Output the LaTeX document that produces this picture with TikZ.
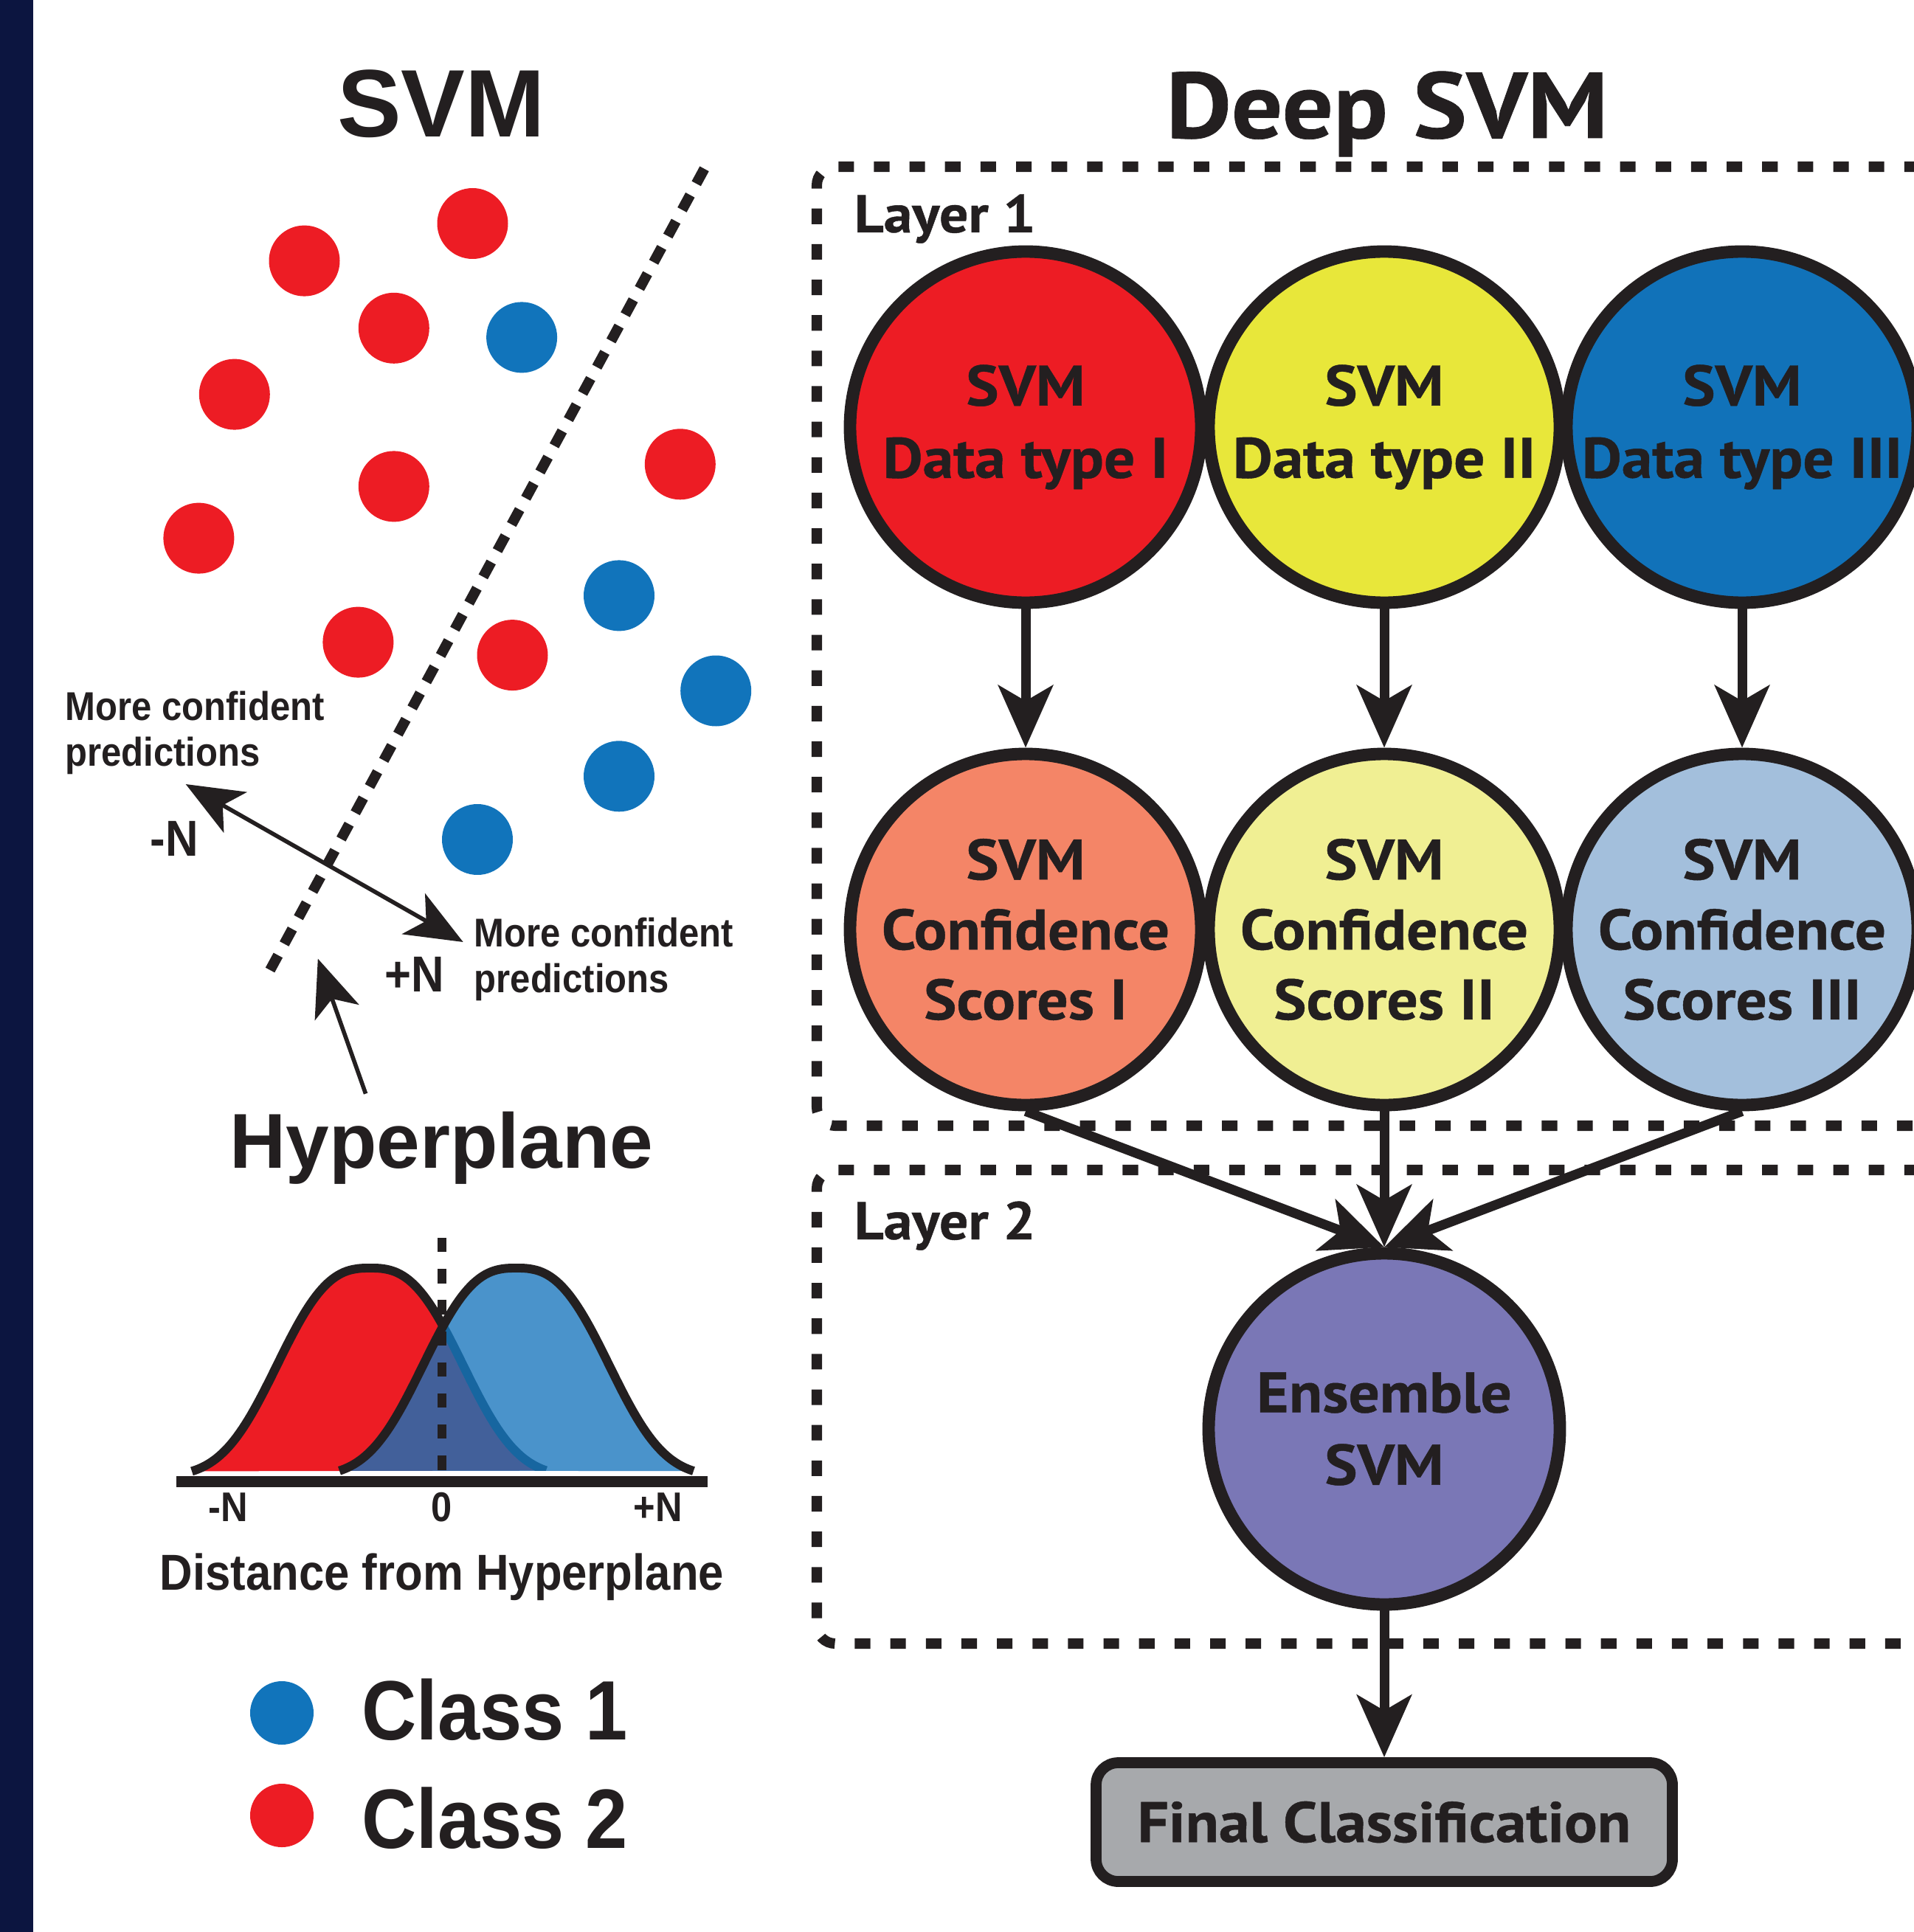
\documentclass[tikz,border=0pt]{standalone}
\usepackage{fontspec}
\setmainfont{Liberation Sans}
\newfontfamily\narrowfont[FakeStretch=0.9]{Liberation Sans}
\newfontfamily\deepfont[FakeStretch=1.08,BoldFeatures={FakeBold=0.6}]{PT Sans}
\usetikzlibrary{arrows.meta,positioning}

\definecolor{inkblack}{HTML}{231F20}
\definecolor{barnavy}{HTML}{0C1540}
\definecolor{svmred}{HTML}{ED1C24}
\definecolor{svmyellow}{HTML}{E8E73A}
\definecolor{svmblue}{HTML}{1172B9}
\definecolor{confsalmon}{HTML}{F48567}
\definecolor{confyellow}{HTML}{F0EF93}
\definecolor{confblue}{HTML}{A3BFDC}
\definecolor{enspurple}{HTML}{7A77B6}
\definecolor{finalgrey}{HTML}{A7A9AC}
\definecolor{dotblue}{HTML}{1174BB}
\definecolor{curveblue}{HTML}{4A93CB}
\definecolor{overlapblue}{HTML}{42609A}
\definecolor{flankblue}{HTML}{1766A0}

\begin{document}
\begin{tikzpicture}[text=inkblack,
  svm node/.style={circle,draw=inkblack,line width=4.8pt,minimum size=4.76cm,
    inner sep=0pt,align=center,font=\deepfont\bfseries\fontsize{22}{27.9}\selectfont},
  score node/.style={svm node,font=\deepfont\bfseries\fontsize{22}{27}\selectfont},
  red dot/.style={circle,fill=svmred,minimum size=0.96cm,inner sep=0pt},
  blue dot/.style={circle,fill=dotblue,minimum size=0.96cm,inner sep=0pt},
  layer box/.style={draw=inkblack,line width=4pt,dash pattern=on 6pt off 7.7pt,rounded corners=0.25cm},
  layer label/.style={anchor=base west,inner sep=0pt,font=\deepfont\bfseries\fontsize{20.5}{24}\selectfont},
  thick arrow/.style={->,>={Stealth[length=24pt,width=21pt,inset=6pt]},line width=3.7pt,inkblack},
  thin arrow/.style={>={Stealth[length=22pt,width=18pt,inset=5.6pt]},line width=1.6pt,draw=inkblack},
  curve line/.style={draw=inkblack,line width=3.4pt,line join=round},
  note/.style={align=left,anchor=north west,inner sep=0pt,font=\narrowfont\bfseries\fontsize{15.5}{17.6}\selectfont},
  declare function={redbell(\x)=-20.02+2.83*exp(-1*pow(abs(\x-5.015)/1.5,2.7));
                    bluebell(\x)=-20.02+2.83*exp(-1*pow(abs(\x-6.995)/1.5,2.7));}]

  \useasboundingbox (0,0) rectangle (25.93,-26.19);
  \fill[barnavy] (0,0) rectangle (0.45,-26.19);

  %% left half: plain SVM
  \node[anchor=base,font=\bfseries\fontsize{37}{40}\selectfont] (SvmTitle) at (5.98,-1.86) {SVM};

  \node[red dot] (R1) at (6.405,-3.03) {};
  \node[red dot] (R2) at (4.125,-3.536) {};
  \node[red dot] (R3) at (5.338,-4.448) {};
  \node[red dot] (R4) at (3.178,-5.346) {};
  \node[red dot] (R5) at (5.338,-6.594) {};
  \node[red dot] (R6) at (2.694,-7.296) {};
  \node[red dot] (R7) at (9.218,-6.293) {};
  \node[red dot] (R8) at (4.854,-8.706) {};
  \node[red dot] (R9) at (6.945,-8.881) {};
  \node[blue dot] (B1) at (7.071,-4.574) {};
  \node[blue dot] (B2) at (8.39,-8.074) {};
  \node[blue dot] (B3) at (9.702,-9.365) {};
  \node[blue dot] (B4) at (8.39,-10.523) {};
  \node[blue dot] (B5) at (6.47,-11.38) {};

  % separating hyperplane
  \coordinate (HypLow) at (3.66,-13.15);
  \coordinate (HypHigh) at (9.55,-2.28);
  \draw[inkblack,line width=4pt,dash pattern=on 6.5pt off 5pt] (HypLow) -- (HypHigh);

  \coordinate (NegEnd) at (2.517,-10.63);
  \coordinate (PosEnd) at (6.277,-12.77);
  \draw[thin arrow,<->] (NegEnd) -- (PosEnd);
  \node[note] (NegNote) at (0.877,-9.365) {More confident\\predictions};
  \node[note] (PosNote) at (6.42,-12.437) {More confident\\predictions};
  \node[font=\narrowfont\bfseries\fontsize{19.5}{22}\selectfont] (NegN) at (2.36,-11.366) {-N};
  \node[font=\narrowfont\bfseries\fontsize{19.5}{22}\selectfont] (PosN) at (5.616,-13.205) {+N};

  \node[anchor=base,font=\bfseries\fontsize{30}{34}\selectfont] (HypLabel) at (5.985,-15.83) {Hyperplane};
  \coordinate (HypTail) at (4.956,-14.826);
  \coordinate (HypTip) at (4.308,-12.996);
  \draw[thin arrow,->] (HypTail) -- (HypTip);

  % distance distributions
  \fill[svmred] plot[domain=2.6:7.4,samples=120] (\x,{redbell(\x)}) -- cycle;
  \fill[curveblue] plot[domain=4.6:9.4,samples=120] (\x,{bluebell(\x)}) -- cycle;
  \begin{scope}
    \clip plot[domain=4.6:9.4,samples=120] (\x,{bluebell(\x)}) -- cycle;
    \fill[overlapblue] plot[domain=2.6:7.4,samples=120] (\x,{redbell(\x)}) -- cycle;
    \draw[curve line,draw=flankblue] plot[domain=5.9:7.4,samples=60] (\x,{redbell(\x)});
  \end{scope}
  \draw[inkblack,line width=3.4pt,dash pattern=on 5.5pt off 6.5pt] (5.99,-16.78) -- (5.99,-20.0);
  \draw[curve line] plot[domain=2.6:6.0,samples=90] (\x,{redbell(\x)});
  \draw[curve line] plot[domain=4.6:9.4,samples=120] (\x,{bluebell(\x)});
  \draw[inkblack,line width=4.5pt] (2.39,-20.085) -- (9.59,-20.085);

  \node[font=\narrowfont\bfseries\fontsize{16}{18}\selectfont] (TickNeg) at (3.09,-20.43) {-N};
  \node[font=\narrowfont\bfseries\fontsize{16}{18}\selectfont] (TickZero) at (5.99,-20.43) {0};
  \node[font=\narrowfont\bfseries\fontsize{16}{18}\selectfont] (TickPos) at (8.92,-20.43) {+N};
  \node[anchor=base,font=\narrowfont\bfseries\fontsize{19.5}{22}\selectfont] (AxisLabel) at (5.99,-21.55) {Distance from Hyperplane};

  % legend
  \node[blue dot,minimum size=0.86cm] (KeyOne) at (3.82,-23.22) {};
  \node[red dot,minimum size=0.86cm] (KeyTwo) at (3.82,-24.61) {};
  \node[anchor=base west,inner sep=0pt,font=\narrowfont\bfseries\fontsize{32.5}{35}\selectfont] (KeyOneText) at (4.90,-23.58) {Class 1};
  \node[anchor=base west,inner sep=0pt,font=\narrowfont\bfseries\fontsize{32.5}{35}\selectfont] (KeyTwoText) at (4.90,-25.05) {Class 2};

  %% right half: deep SVM
  \node[anchor=base,font=\deepfont\bfseries\fontsize{36}{40}\selectfont] (DeepTitle) at (18.80,-1.87) {Deep SVM};

  \draw[layer box] (26.5,-2.26) -- (11.07,-2.26) -- (11.07,-15.26) -- (26.5,-15.26);
  \draw[layer box] (26.5,-15.86) -- (11.07,-15.86) -- (11.07,-22.28) -- (26.5,-22.28);
  \node[layer label] (LayerOne) at (11.57,-3.15) {Layer 1};
  \node[layer label] (LayerTwo) at (11.57,-16.80) {Layer 2};

  \node[svm node,fill=svmred] (DataTypeI) at (13.90,-5.79) {SVM\\Data type I};
  \node[svm node,fill=svmyellow] (DataTypeII) [node distance=4.86cm, right of=DataTypeI] {SVM\\Data type II};
  \node[svm node,fill=svmblue] (DataTypeIII) [node distance=4.85cm, right of=DataTypeII] {SVM\\Data type III};
  \node[score node,fill=confsalmon] (ScoresI) [node distance=6.81cm, below of=DataTypeI] {SVM\\Confidence\\Scores I};
  \node[score node,fill=confyellow] (ScoresII) [node distance=6.81cm, below of=DataTypeII] {SVM\\Confidence\\Scores II};
  \node[score node,fill=confblue] (ScoresIII) [node distance=6.81cm, below of=DataTypeIII] {SVM\\Confidence\\Scores III};
  \node[svm node,fill=enspurple] (Ensemble) [node distance=6.77cm, below of=ScoresII] {Ensemble\\SVM};
  \node[rectangle,rounded corners=0.3cm,draw=inkblack,line width=4.2pt,fill=finalgrey,
    minimum width=7.81cm,minimum height=1.61cm,
    font=\deepfont\bfseries\fontsize{22}{26}\selectfont] (Final) [node distance=5.33cm, below of=Ensemble] {Final Classification};

  \path[thick arrow]
    (DataTypeI) edge (ScoresI)
    (DataTypeII) edge (ScoresII)
    (DataTypeIII) edge (ScoresIII)
    (ScoresI.south) edge (Ensemble.north)
    (ScoresII) edge (Ensemble)
    (ScoresIII.south) edge (Ensemble.north)
    (Ensemble) edge (Final);
\end{tikzpicture}
\end{document}
